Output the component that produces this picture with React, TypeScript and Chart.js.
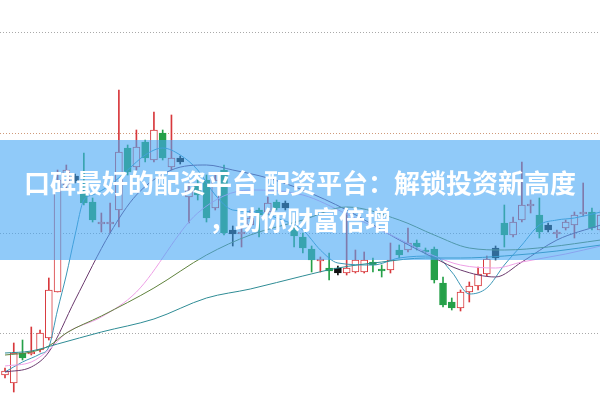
import React, { useEffect, useRef } from "react";
import { Chart, registerables } from "chart.js";

Chart.register(...registerables);

// ---- candle data (index 0..68), price units ----
const OPEN = [2.5, 1.7, 4.7, 4.6, 5.0, 6.2, 10.8, 21.5, 22.4, 20.8, 19.8, 17.6, 17.6, 19.0, 25.2, 23.3, 25.8, 24.0, 26.7, 23.3, 24.2, 20.3, 21.5, 22.0, 19.2, 23.0, 17.0, 16.6, 17.5, 19.0, 18.8, 19.8, 19.7, 17.0, 16.3, 15.1, 13.9, 13.2, 13.2, 12.7, 12.8, 12.8, 13.8, 13.1, 13.0, 15.0, 15.0, 15.7, 15.0, 15.1, 11.7, 9.8, 9.2, 10.8, 11.4, 12.6, 15.2, 17.7, 16.5, 18.0, 19.4, 18.5, 17.5, 16.6, 17.2, 17.5, 18.6, 18.8, 17.0];
const CLOSE = [2.9, 4.7, 4.2, 4.8, 6.7, 11.0, 22.0, 23.0, 21.9, 19.7, 18.0, 17.8, 17.8, 24.8, 22.8, 25.3, 24.2, 27.0, 24.2, 24.2, 23.8, 21.0, 20.5, 18.2, 22.0, 16.7, 16.6, 16.8, 18.2, 18.5, 19.7, 19.2, 19.2, 16.4, 15.2, 14.0, 14.1, 12.9, 12.7, 13.2, 14.0, 14.0, 13.5, 12.9, 14.0, 14.5, 15.7, 15.3, 14.8, 12.0, 9.5, 9.2, 10.8, 11.4, 12.6, 14.1, 14.2, 16.5, 17.8, 19.5, 19.6, 16.8, 17.0, 16.8, 17.8, 18.5, 18.8, 17.2, 18.5];
const HIGH = [3.2, 5.7, 6.0, 7.3, 7.0, 12.2, 23.0, 23.5, 22.6, 24.7, 20.2, 18.7, 19.7, 31.0, 25.5, 27.0, 26.0, 28.8, 27.0, 28.5, 24.4, 21.7, 22.0, 22.5, 22.5, 23.5, 17.4, 17.2, 19.0, 19.2, 20.3, 20.0, 19.9, 17.3, 16.7, 15.4, 14.3, 14.7, 13.4, 18.7, 15.0, 14.8, 14.2, 13.5, 15.7, 15.5, 17.2, 16.0, 15.2, 15.3, 12.3, 10.2, 11.0, 11.8, 13.3, 14.4, 15.4, 19.5, 18.3, 23.8, 20.0, 20.2, 17.7, 17.0, 18.0, 18.8, 21.7, 19.2, 19.0];
const LOW = [2.2, 0.8, 4.0, 4.5, 4.8, 6.0, 10.8, 21.0, 21.7, 19.5, 17.8, 16.8, 16.7, 17.3, 22.5, 23.0, 23.8, 23.8, 24.0, 23.0, 23.6, 17.7, 20.0, 17.8, 19.0, 16.5, 15.4, 15.3, 17.2, 16.3, 18.6, 19.0, 19.0, 15.3, 14.7, 12.8, 12.8, 12.0, 12.5, 12.5, 12.7, 12.7, 12.8, 12.3, 12.7, 14.2, 14.8, 15.0, 14.6, 11.7, 9.3, 9.0, 8.9, 9.8, 11.0, 12.4, 14.0, 15.3, 16.3, 17.8, 18.7, 16.2, 16.8, 16.2, 17.0, 16.2, 18.4, 17.0, 16.8];
const NEUTRAL = [8, 20, 26, 32, 38, 56, 62];

// ---- moving average lines: [candle index, price] ----
const MA5 = [[0, 2.8], [2, 3.8], [4, 4.6], [5, 5.3], [6, 9.0], [7, 12.5], [8, 16.5], [9, 20.0], [10, 20.5], [12, 21.5], [14, 23.0], [16, 24.5], [18, 25.2], [20, 24.5], [22, 23.0], [24, 20.5], [26, 19.0], [29, 18.8], [31, 18.2], [34, 17.0], [36, 15.0], [38, 13.7], [42, 13.5], [45, 14.2], [49, 14.4], [51, 12.8], [53, 10.6], [55, 11.2], [57, 13.5], [59, 15.5], [61, 17.5], [63, 18.0], [65, 18.2], [68, 18.8]];
const MA10 = [[0, 2.8], [3, 3.3], [5, 4.8], [8, 10.0], [12, 16.7], [15, 20.5], [19, 23.0], [23, 23.5], [26, 23.0], [30, 22.2], [34, 21.0], [39, 19.0], [45, 16.0], [49, 14.2], [52, 13.0], [56, 12.3], [59, 13.8], [63, 16.0], [68, 17.5]];
const MA20 = [[0, 3.4], [3, 3.8], [5, 5.0], [7, 6.7], [11, 8.3], [15, 10.8], [22, 18.7], [28, 21.0], [34, 20.5], [39, 18.6], [45, 16.1], [49, 14.4], [52, 13.5], [56, 13.2], [59, 13.8], [64, 14.6], [68, 15.4]];
const MA30 = [[0, 4.5], [3, 4.8], [5, 5.4], [7, 6.7], [11, 8.4], [17, 11.2], [23, 14.5], [28, 16.5], [34, 18.0], [39, 19.3], [45, 18.0], [49, 16.5], [53, 15.2], [57, 15.0], [62, 15.3], [68, 16.0]];
const MA60 = [[0, 4.7], [3, 4.9], [6, 5.6], [11, 6.8], [17, 8.1], [23, 10.2], [28, 11.1], [34, 12.4], [38, 13.2], [43, 13.8], [48, 14.2], [52, 14.2], [57, 14.4], [63, 14.9], [68, 15.5]];

const GRID_LEVELS = [6.7, 16.7, 26.7, 36.7];

const LINE1 = "口碑最好的配资平台 配资平台：解锁投资新高度";
const LINE2 = "，助你财富倍增";

const RED = "#d8383c";
const GREEN = "#25a048";
const BLACK = "#111111";

export default function App() {
  const ref = useRef<HTMLCanvasElement>(null);

  useEffect(() => {
    if (!ref.current) return;
    const idx = OPEN.map((_, i) => i);
    const neutral = (i: number) => NEUTRAL.includes(i);
    const up = (i: number) => CLOSE[i] >= OPEN[i];
    const edge = (i: number) => (neutral(i) ? BLACK : up(i) ? RED : GREEN);
    const fill = (i: number) => (neutral(i) ? BLACK : up(i) ? "#ffffff" : GREEN);

    const lines = [
      { pts: MA60, color: "#2f8c95" },
      { pts: MA30, color: "#5f823c" },
      { pts: MA20, color: "#ee9fe6" },
      { pts: MA10, color: "#6b3a6e" },
      { pts: MA5, color: "#3c97b6" },
    ];

    const chart = new Chart(ref.current, {
      type: "bar",
      data: {
        datasets: [
          {
            type: "bar",
            data: idx.map((i) => ({ x: i, y: [LOW[i], HIGH[i]] })),
            backgroundColor: idx.map(edge),
            borderWidth: 0,
            barThickness: 1,
            grouped: false,
            order: 3,
          } as any,
          {
            type: "bar",
            data: idx.map((i) => ({ x: i, y: [OPEN[i], CLOSE[i]] })),
            backgroundColor: idx.map(fill),
            borderColor: idx.map(edge),
            borderWidth: 1,
            borderSkipped: false,
            barThickness: 7,
            grouped: false,
            order: 2,
          } as any,
          ...lines.map(
            (l) =>
              ({
                type: "line",
                data: l.pts.map(([x, y]) => ({ x, y })),
                borderColor: l.color,
                borderWidth: 1,
                pointRadius: 0,
                cubicInterpolationMode: "monotone",
                fill: false,
                order: 1,
              } as any)
          ),
        ],
      },
      options: {
        responsive: false,
        animation: false,
        devicePixelRatio: 1,
        layout: { padding: 0 },
        plugins: { legend: { display: false }, tooltip: { enabled: false } },
        scales: {
          x: {
            type: "linear",
            min: -0.571,
            max: 67.92,
            offset: false,
            display: false,
            grid: { offset: false },
          },
          y: {
            min: 0,
            max: 40,
            afterBuildTicks: (axis: any) => {
              axis.ticks = GRID_LEVELS.map((v) => ({ value: v }));
            },
            ticks: { display: false },
            grid: {
              drawTicks: false,
              lineWidth: 1,
              color: (ctx: any) =>
                ctx.tick && Math.abs(ctx.tick.value - 26.7) < 0.01 ? "#cf9a7a" : "#a9a9a9",
            },
            border: { display: false, dash: [1, 2] },
          },
        },
      } as any,
    });
    return () => chart.destroy();
  }, []);

  return (
    <div
      style={{
        position: "fixed",
        left: 0,
        top: 0,
        width: 600,
        height: 400,
        background: "#ffffff",
        overflow: "hidden",
      }}
    >
      <canvas ref={ref} width={600} height={400} style={{ display: "block", width: 600, height: 400 }} />
      <div
        style={{
          position: "absolute",
          left: 0,
          top: 140,
          width: 600,
          height: 120,
          background: "rgba(70,167,245,0.6)",
          display: "flex",
          flexDirection: "column",
          justifyContent: "center",
          alignItems: "center",
          color: "#ffffff",
          fontFamily: '"Noto Sans CJK SC", sans-serif',
          fontWeight: 700,
          fontSize: 26,
          lineHeight: "37px",
        }}
      >
        <div style={{ whiteSpace: "nowrap" }}>{LINE1}</div>
        <div style={{ whiteSpace: "nowrap" }}>{LINE2}</div>
      </div>
    </div>
  );
}
